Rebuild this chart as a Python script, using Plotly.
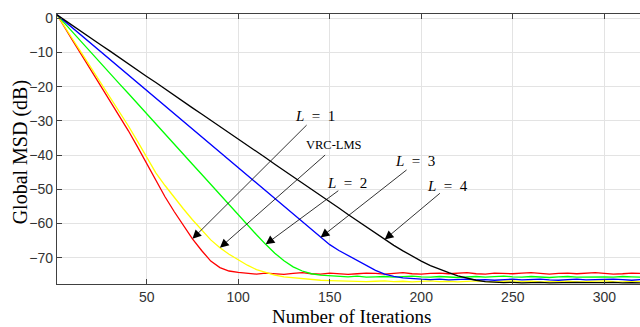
import plotly.graph_objects as go

# ---------------- data ----------------
iterations = [1] + list(range(5, 321, 5))

msd_L1 = [1.0, -2.7, -6.9, -11.2, -15.5, -19.8, -24.2, -28.5, -32.9, -37.6,
          -42.5, -47.5, -52.2, -56.5, -60.4, -64.5, -67.9, -71.0, -72.9, -73.9,
          -74.3, -74.6, -74.8, -74.5, -74.7, -74.9, -74.6, -74.4, -74.7, -74.8,
          -74.5, -74.6, -74.9, -74.7, -74.5, -74.6, -74.8, -74.6, -74.4, -74.7,
          -74.8, -74.6, -74.5, -74.7, -74.6, -74.4, -74.7, -74.8, -74.5, -74.6,
          -74.7, -74.5, -74.4, -74.6, -74.8, -74.6, -74.5, -74.7, -74.6, -74.4,
          -74.6, -74.8, -74.7, -74.5, -74.6]

msd_vrc = [1.0, -2.5, -6.5, -10.6, -14.7, -18.8, -23.0, -27.2, -31.5, -36.0,
           -40.8, -45.2, -48.9, -52.4, -55.7, -58.9, -62.0, -64.8, -67.1, -69.0,
           -70.6, -72.2, -73.5, -74.4, -75.1, -75.6, -75.9, -76.2, -76.4, -76.6,
           -76.7, -76.8, -76.9, -76.8, -77.0, -76.9, -76.8, -77.0, -76.9, -77.1,
           -76.9, -76.8, -77.0, -76.9, -77.1, -76.9, -76.8, -77.0, -77.1, -76.9,
           -76.8, -77.0, -76.9, -77.1, -77.0, -76.8, -76.9, -77.1, -77.0, -76.9,
           -76.8, -77.0, -77.1, -76.9, -77.0]

msd_L2 = [1.0, -1.4, -4.3, -7.3, -10.2, -13.2, -16.1, -19.1, -22.0, -25.0,
          -27.9, -30.9, -33.8, -36.8, -39.7, -42.7, -45.6, -48.6, -51.5, -54.5,
          -57.4, -60.4, -63.3, -66.1, -68.7, -70.9, -72.7, -73.9, -74.7, -75.1,
          -75.3, -75.5, -75.6, -75.4, -75.7, -75.6, -75.5, -75.7, -75.6, -75.4,
          -75.6, -75.7, -75.5, -75.6, -75.8, -75.6, -75.5, -75.7, -75.6, -75.4,
          -75.6, -75.7, -75.5, -75.6, -75.8, -75.6, -75.5, -75.7, -75.6, -75.5,
          -75.6, -75.7, -75.5, -75.6, -75.7]

msd_L3 = [1.0, -0.8, -3.1, -5.3, -7.6, -9.8, -12.1, -14.4, -16.6, -18.9,
          -21.1, -23.4, -25.7, -27.9, -30.2, -32.4, -34.7, -37.0, -39.2, -41.5,
          -43.7, -46.0, -48.3, -50.5, -52.8, -55.0, -57.3, -59.6, -61.8, -64.1,
          -66.2, -67.9, -69.4, -70.9, -72.4, -73.7, -74.8, -75.5, -75.9, -76.2,
          -76.3, -76.4, -76.3, -76.5, -76.4, -76.3, -76.5, -76.4, -76.6, -76.4,
          -76.3, -76.5, -76.4, -76.3, -76.5, -76.6, -76.4, -76.3, -76.5, -76.4,
          -76.5, -76.3, -76.4, -76.6, -76.4]

msd_L4 = [1.0, -0.5, -2.3, -4.1, -6.0, -7.8, -9.6, -11.5, -13.3, -15.1,
          -17.0, -18.8, -20.7, -22.5, -24.3, -26.2, -28.0, -29.8, -31.7, -33.5,
          -35.3, -37.2, -39.0, -40.8, -42.7, -44.5, -46.3, -48.2, -50.0, -51.8,
          -53.7, -55.5, -57.4, -59.2, -61.0, -62.9, -64.7, -66.4, -68.0, -69.6,
          -71.0, -72.3, -73.4, -74.4, -75.3, -76.0, -76.6, -77.0, -77.2, -77.3,
          -77.2, -77.4, -77.3, -77.2, -77.4, -77.3, -77.4, -77.2, -77.3, -77.4,
          -77.3, -77.2, -77.4, -77.3, -77.4]

series_names = ["L = 1", "VRC-LMS", "L = 2", "L = 3", "L = 4"]
series_values = [msd_L1, msd_vrc, msd_L2, msd_L3, msd_L4]
series_colors = ["#ff0000", "#ffff00", "#00ff00", "#0000ff", "#000000"]

# annotation labels (text, label centre, arrow tail, iteration pointed at)
label_texts = ["<i>L</i>\u2002=\u20021", "VRC-LMS", "<i>L</i>\u2002=\u20022",
               "<i>L</i>\u2002=\u20023", "<i>L</i>\u2002=\u20024"]
label_x = [141.9, 152.3, 159.4, 196.4, 214.2]
label_y = [-28.7, -37.1, -48.1, -41.8, -49.1]
tail_x = [138.2, 148.3, 155.5, 192.8, 211.0]
tail_y = [-30.8, -39.6, -50.1, -44.0, -50.8]
tip_iter = [75, 90, 115, 145, 180]

x_ticks = [50, 100, 150, 200, 250, 300]
y_ticks = [0, -10, -20, -30, -40, -50, -60, -70]

# ---------------- figure ----------------
fig = go.Figure()
for name, vals, col in zip(series_names, series_values, series_colors):
    fig.add_trace(go.Scatter(x=iterations, y=vals, mode="lines", name=name,
                             line=dict(color=col, width=1.3), showlegend=False))

annotations = []
for i in range(5):
    idx = iterations.index(tip_iter[i])
    tip_y = series_values[i][idx]
    annotations.append(dict(x=tip_iter[i], y=tip_y, xref="x", yref="y",
                            ax=tail_x[i], ay=tail_y[i], axref="x", ayref="y",
                            text="", showarrow=True, arrowhead=2, arrowsize=2.2,
                            arrowwidth=0.8, arrowcolor="black", standoff=0))
    fsize = 12.5 if label_texts[i] == "VRC-LMS" else 15
    annotations.append(dict(x=label_x[i], y=label_y[i], xref="x", yref="y",
                            text=label_texts[i], showarrow=False,
                            font=dict(family="Liberation Serif", size=fsize, color="black"),
                            xanchor="center", yanchor="middle"))

annotations.append(dict(x=0.505, y=-0.122, xref="paper", yref="paper",
                        text="Number of Iterations", showarrow=False,
                        font=dict(family="Liberation Serif", size=19, color="black"),
                        xanchor="center", yanchor="middle"))
annotations.append(dict(x=-0.062, y=0.487, xref="paper", yref="paper",
                        text="Global MSD (dB)", showarrow=False, textangle=-90,
                        font=dict(family="Liberation Serif", size=20, color="black"),
                        xanchor="center", yanchor="middle"))

fig.update_layout(
    width=640, height=327,
    margin=dict(l=57, r=0, t=14, b=43),
    paper_bgcolor="white", plot_bgcolor="white",
    annotations=annotations,
)
fig.update_xaxes(range=[1, 319.5], tickvals=x_ticks, showgrid=True,
                 gridcolor="#e3e3e3", gridwidth=1, zeroline=False,
                 showline=True, linecolor="#404040", linewidth=1.2,
                 mirror="ticks", ticks="inside", ticklen=5, tickcolor="#404040",
                 tickfont=dict(family="Liberation Sans", size=14, color="#333333"))
fig.update_yaxes(range=[-77.7, 1.25], tickvals=y_ticks, showgrid=True,
                 gridcolor="#e3e3e3", gridwidth=1, zeroline=False,
                 showline=True, linecolor="#404040", linewidth=1.2,
                 ticks="inside", ticklen=5, tickcolor="#404040",
                 tickfont=dict(family="Liberation Sans", size=14, color="#333333"))

fig.write_html("out.html")
